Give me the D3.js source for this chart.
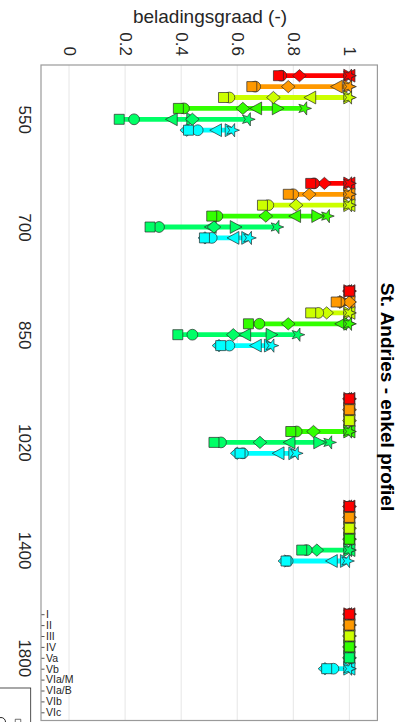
<!DOCTYPE html>
<html><head><meta charset="utf-8">
<script src="https://cdn.jsdelivr.net/npm/d3@7"></script>
<style>
html,body{margin:0;padding:0;background:#fff;}
svg{display:block;font-family:"Liberation Sans",Arial,Helvetica,sans-serif;}
</style></head><body>
<svg id="chart" width="402" height="722"></svg>
<script>
// Discharge classes (rows) per location category, belading ratio per scenario marker
const categories = ["550", "700", "850", "1020", "1400", "1800"];
const classes = ["I", "II", "III", "IV", "Va", "Vb", "VIa/M", "VIa/B", "VIb", "VIc"];
const valueTicks = [0, 0.2, 0.4, 0.6, 0.8, 1];
const titleText = "St. Andries - enkel profiel";
const axisTitle = "beladingsgraad (-)";

// one row per category, one value per class I..Vb
const squareVals = [
  [0.747, 0.652, 0.551, 0.390, 0.179, 0.426],
  [0.862, 0.782, 0.690, 0.509, 0.289, 0.483],
  [1.000, 0.953, 0.862, 0.640, 0.388, 0.541],
  [1.000, 1.000, 1.000, 0.791, 0.517, 0.610],
  [1.000, 1.000, 1.000, 1.000, 0.830, 0.774],
  [1.000, 1.000, 1.000, 1.000, 1.000, 0.919]
];
const circleVals = [
  [0.757, 0.664, 0.572, 0.410, 0.232, 0.459],
  [0.874, 0.800, 0.711, 0.529, 0.321, 0.509],
  [1.000, 0.965, 0.889, 0.679, 0.440, 0.572],
  [1.000, 1.000, 1.000, 0.812, 0.542, 0.620],
  [1.000, 1.000, 1.000, 1.000, 0.848, 0.780],
  [1.000, 1.000, 1.000, 1.000, 1.000, 0.943]
];
const diamondVals = [
  [0.822, 0.782, 0.729, 0.620, 0.440, 0.420],
  [0.911, 0.857, 0.810, 0.702, 0.517, 0.485],
  [1.000, 1.000, 0.919, 0.782, 0.586, 0.535],
  [1.000, 1.000, 1.000, 0.872, 0.681, 0.600],
  [1.000, 1.000, 1.000, 1.000, 0.884, 0.770],
  [1.000, 1.000, 1.000, 1.000, 1.000, 0.913]
];
const triLeftVals = [
  [1.000, 0.955, 0.860, 0.667, 0.366, 0.524],
  [1.000, 1.000, 1.000, 0.806, 0.505, 0.586],
  [1.000, 1.000, 1.000, 0.970, 0.628, 0.666],
  [1.000, 1.000, 1.000, 1.000, 0.786, 0.747],
  [1.000, 1.000, 1.000, 1.000, 1.000, 0.937],
  [1.000, 1.000, 1.000, 1.000, 1.000, 1.000]
];
const triRightVals = [
  [1.000, 1.000, 1.000, 0.745, 0.440, 0.577],
  [1.000, 1.000, 1.000, 0.886, 0.595, 0.636],
  [1.000, 0.985, 1.000, 1.000, 0.723, 0.717],
  [1.000, 1.000, 1.000, 1.000, 0.893, 0.804],
  [1.000, 1.000, 1.000, 1.000, 1.000, 0.988],
  [1.000, 1.000, 1.000, 1.000, 1.000, 1.000]
];
const starVals = [
  [1.000, 1.000, 1.000, 0.840, 0.639, 0.583],
  [1.000, 1.000, 1.000, 0.921, 0.741, 0.643],
  [1.000, 1.000, 1.000, 1.000, 0.816, 0.723],
  [1.000, 1.000, 1.000, 1.000, 0.929, 0.810],
  [1.000, 1.000, 1.000, 1.000, 1.000, 0.993],
  [1.000, 1.000, 1.000, 1.000, 1.000, 1.000]
];

// marker shapes (centred at 0,0)
function starPath(ro, ri) {
  const p = d3.path();
  for (let k = 0; k < 10; k++) {
    const r = k % 2 ? ri : ro;
    const a = k * Math.PI / 5;
    const px = r * Math.cos(a), py = r * Math.sin(a);
    k ? p.lineTo(px, py) : p.moveTo(px, py);
  }
  p.closePath();
  return p.toString();
}
const shapes = {
  triLeft: "M-6.2,0L5.6,-6.4L5.6,6.4Z",
  triRight: "M6.2,0L-5.6,-6.4L-5.6,6.4Z",
  star: starPath(7, 2.8),
  diamond: "M-6.8,0L0,-6.1L6.8,0L0,6.1Z",
  circle: d3.arc()({innerRadius: 0, outerRadius: 5.4, startAngle: 0, endAngle: 2 * Math.PI}),
  square: "M-5,-5H5V5H-5Z"
};
// drawing order: later entries sit on top
const markerSeries = [
  ["triLeft", triLeftVals],
  ["triRight", triRightVals],
  ["star", starVals],
  ["diamond", diamondVals],
  ["circle", circleVals],
  ["square", squareVals]
];

const svg = d3.select("#chart");
const plot = {left: 41, right: 377.4, top: 65, bottom: 720.5};

const x = d3.scaleLinear().domain([-0.1, 1.1]).range([plot.left, plot.right]);
const cat = d3.scaleLinear().domain([0, categories.length - 1]).range([119.3, 657.8]);
const slot = d3.scaleLinear().domain([0, classes.length - 1]).range([-43.6, 54.5]);
const colour = d3.scaleOrdinal().domain(classes)
  .range(classes.map((c, i) => d3.hsl(i * 36, 1, 0.5).formatHex()));
const rowY = (g, s) => cat(g) + slot(s);

svg.append("rect").attr("width", 402).attr("height", 722).attr("fill", "#fff");

// grid
svg.append("g").selectAll("line").data(valueTicks).join("line")
  .attr("x1", d => x(d)).attr("x2", d => x(d))
  .attr("y1", plot.top).attr("y2", plot.bottom)
  .attr("stroke", "#e6e6e6").attr("stroke-width", 1);

// value axis along the top, labels turned a quarter
const ax = svg.append("g").attr("transform", `translate(0,${plot.top})`)
  .call(d3.axisTop(x).tickValues(valueTicks).tickSize(0).tickFormat(d3.format("")));
ax.select(".domain").remove();
ax.selectAll("text")
  .attr("x", 0).attr("y", 0).attr("dy", "0.35em")
  .attr("text-anchor", "end")
  .attr("transform", "translate(0,-9) rotate(90)")
  .attr("font-size", 17).attr("fill", "#262626");

// category axis on the left
const cx = svg.append("g").attr("transform", `translate(${plot.left},0)`)
  .call(d3.axisLeft(cat).tickValues(d3.range(categories.length)).tickSize(0)
    .tickFormat(i => categories[i]));
cx.select(".domain").remove();
cx.selectAll("text")
  .attr("x", 0).attr("y", 0).attr("dy", 0)
  .attr("text-anchor", "middle")
  .attr("transform", "translate(-22,0) rotate(90)")
  .attr("font-size", 17).attr("fill", "#262626");

// class ticks beside the last group
const last = categories.length - 1;
const cls = svg.append("g").attr("transform", `translate(${plot.left},0)`)
  .call(d3.axisRight(d3.scaleLinear().domain([0, classes.length - 1])
    .range([rowY(last, 0), rowY(last, classes.length - 1)]))
    .tickValues(d3.range(classes.length)).tickSize(3.5).tickPadding(1.5)
    .tickFormat(i => classes[i]));
cls.select(".domain").remove();
cls.selectAll("line").attr("stroke", "#262626").attr("stroke-width", 0.8);
cls.selectAll("text").attr("font-size", 10.5).attr("fill", "#262626");

// rows: connecting bar from lowest to highest value, then markers
const rows = [];
categories.forEach((c, g) => {
  squareVals[g].forEach((_, s) => {
    const vals = markerSeries.map(m => m[1][g][s]);
    rows.push({g, s, lo: d3.min(vals), hi: d3.max(vals)});
  });
});
const data = svg.append("g");
data.selectAll("line.bar").data(rows).join("line").attr("class", "bar")
  .attr("x1", d => x(d.lo)).attr("x2", d => x(d.hi))
  .attr("y1", d => rowY(d.g, d.s)).attr("y2", d => rowY(d.g, d.s))
  .attr("stroke", d => colour(classes[d.s])).attr("stroke-width", 4.8)
  .attr("stroke-linecap", "butt");

markerSeries.forEach(([name, vals]) => {
  const pts = [];
  vals.forEach((row, g) => row.forEach((v, s) => pts.push({g, s, v})));
  data.append("g").selectAll("path").data(pts).join("path")
    .attr("d", shapes[name])
    .attr("transform", d => `translate(${x(d.v)},${rowY(d.g, d.s)})`)
    .attr("fill", d => colour(classes[d.s]))
    .attr("stroke", "#2a2a2a").attr("stroke-width", 0.7)
    .attr("stroke-linejoin", "round");
});

// frame
svg.append("rect")
  .attr("x", plot.left).attr("y", plot.top)
  .attr("width", plot.right - plot.left).attr("height", plot.bottom - plot.top)
  .attr("fill", "none").attr("stroke", "#9a9a9a").attr("stroke-width", 1.2);

// axis title
svg.append("text").attr("x", 210).attr("y", 23).attr("text-anchor", "middle")
  .attr("font-size", 19).attr("fill", "#262626").text(axisTitle);

// chart title, turned a quarter
svg.append("text").attr("text-anchor", "middle").attr("font-weight", "bold")
  .attr("font-size", 19).attr("fill", "#000")
  .attr("transform", "translate(381,397) rotate(90)").text(titleText);

// corner of the marker key box
const key = svg.append("g");
key.append("rect").attr("x", -2).attr("y", 688).attr("width", 32.7).attr("height", 40)
  .attr("fill", "#fff").attr("stroke", "#262626").attr("stroke-width", 0.8);
key.append("path").attr("d", shapes.square)
  .attr("transform", "translate(18,722) scale(0.55)")
  .attr("fill", "none").attr("stroke", "#262626").attr("stroke-width", 1.2);
key.append("circle").attr("cx", 1).attr("cy", 722).attr("r", 4.5)
  .attr("fill", "none").attr("stroke", "#262626").attr("stroke-width", 1);
</script>
</body></html>
